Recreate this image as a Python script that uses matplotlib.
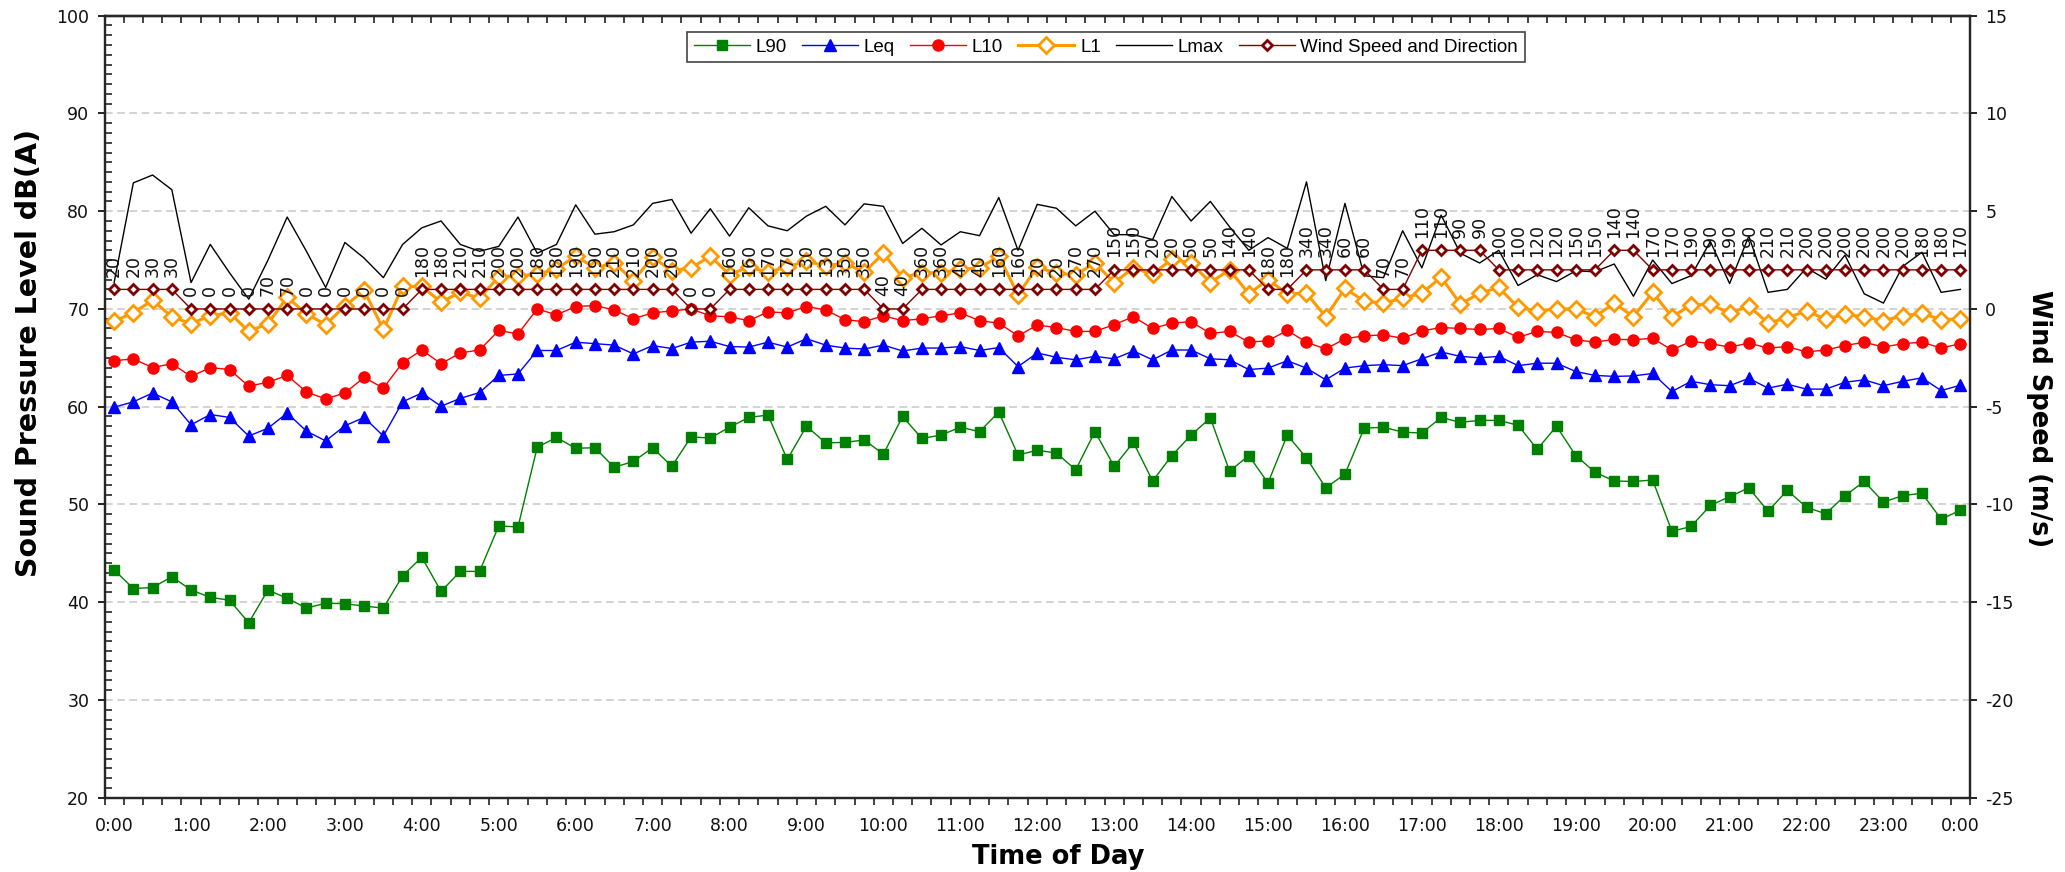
import matplotlib
matplotlib.use("Agg")
import matplotlib.pyplot as plt
from matplotlib.ticker import MultipleLocator, FixedLocator, NullFormatter
import numpy as np

plt.rcParams['font.family'] = ['DejaVu Sans']
plt.rcParams['axes.unicode_minus'] = False

# 15-minute intervals from 0:00 to 24:00
time_labels = ["0:00", "1:00", "2:00", "3:00", "4:00", "5:00", "6:00", "7:00",
               "8:00", "9:00", "10:00", "11:00", "12:00", "13:00", "14:00",
               "15:00", "16:00", "17:00", "18:00", "19:00", "20:00", "21:00",
               "22:00", "23:00", "0:00"]

l90 = [43.3, 41.4, 41.5, 42.6, 41.25, 40.5, 40.2, 37.9, 41.25, 40.4, 39.4, 39.9,
       39.85, 39.6, 39.4, 42.7, 44.6, 41.1, 43.15, 43.15, 47.8, 47.7, 55.85, 56.85,
       55.75, 55.8, 53.8, 54.4, 55.8, 53.9, 56.9, 56.8, 57.9, 58.9, 59.15, 54.6,
       58.0, 56.3, 56.35, 56.6, 55.15, 59.0, 56.75, 57.1, 57.9, 57.45, 59.45, 55.05,
       55.55, 55.25, 53.55, 57.45, 53.9, 56.35, 52.4, 55.0, 57.1, 58.85, 53.4, 55.0,
       52.2, 57.1, 54.75, 51.7, 53.1, 57.8, 57.9, 57.4, 57.3, 58.9, 58.4, 58.6,
       58.6, 58.1, 55.65, 58.0, 55.0, 53.3, 52.4, 52.35, 52.5, 47.25, 47.75, 49.9,
       50.8, 51.7, 49.3, 51.45, 49.7, 49.05, 50.9, 52.35, 50.25, 50.9, 51.15, 48.5,
       49.4]

leq = [59.95, 60.5, 61.4, 60.5, 58.15, 59.2, 58.9, 57.0, 57.8, 59.35, 57.5, 56.5,
       58.05, 58.9, 57.0, 60.5, 61.4, 60.05, 60.85, 61.45, 63.2, 63.35, 65.75, 65.75,
       66.6, 66.45, 66.3, 65.4, 66.25, 65.95, 66.6, 66.7, 66.15, 66.1, 66.6, 66.1,
       66.95, 66.3, 66.0, 65.9, 66.3, 65.7, 66.0, 66.0, 66.15, 65.75, 66.05, 64.1,
       65.5, 65.05, 64.8, 65.15, 64.9, 65.7, 64.8, 65.8, 65.8, 64.9, 64.8, 63.8,
       63.95, 64.7, 63.95, 62.75, 63.95, 64.2, 64.3, 64.2, 64.9, 65.6, 65.15, 65.0,
       65.15, 64.2, 64.45, 64.45, 63.6, 63.2, 63.1, 63.15, 63.4, 61.55, 62.6, 62.25,
       62.15, 62.9, 61.9, 62.3, 61.8, 61.8, 62.5, 62.75, 62.15, 62.6, 62.95, 61.65,
       62.2]

l10 = [64.7, 64.9, 64.0, 64.4, 63.1, 64.0, 63.8, 62.1, 62.5, 63.2, 61.5, 60.8,
       61.4, 63.0, 61.9, 64.5, 65.8, 64.4, 65.5, 65.8, 67.8, 67.45, 70.0, 69.4,
       70.25, 70.35, 69.9, 69.0, 69.6, 69.8, 70.0, 69.3, 69.2, 68.8, 69.7, 69.6,
       70.25, 69.9, 68.9, 68.7, 69.3, 68.8, 69.0, 69.3, 69.6, 68.8, 68.55, 67.25,
       68.35, 68.1, 67.7, 67.7, 68.4, 69.2, 68.0, 68.55, 68.7, 67.5, 67.7, 66.6,
       66.75, 67.8, 66.6, 65.9, 66.95, 67.25, 67.35, 67.0, 67.75, 68.1, 68.0, 67.9,
       68.0, 67.1, 67.7, 67.6, 66.85, 66.6, 66.9, 66.85, 67.0, 65.8, 66.7, 66.45,
       66.1, 66.5, 66.0, 66.15, 65.6, 65.8, 66.25, 66.6, 66.1, 66.45, 66.6, 66.0,
       66.45]

l1 = [68.75, 69.6, 70.9, 69.2, 68.5, 69.3, 69.6, 67.7, 68.5, 71.2, 69.5, 68.4,
      70.3, 71.9, 67.9, 72.3, 72.3, 70.7, 71.7, 71.1, 73.3, 73.4, 73.55, 74.1,
      75.4, 74.2, 74.7, 72.9, 75.3, 73.9, 74.2, 75.4, 73.5, 74.3, 73.75, 74.3,
      74.9, 74.4, 74.7, 73.75, 75.7, 73.2, 73.7, 73.7, 74.05, 74.2, 75.4, 71.45,
      74.3, 73.65, 73.5, 74.7, 72.7, 74.2, 73.55, 75.1, 74.7, 72.7, 74.0, 71.55,
      73.0, 71.55, 71.6, 69.2, 72.1, 70.8, 70.6, 71.1, 71.6, 73.25, 70.5, 71.6,
      72.2, 70.15, 69.8, 70.0, 70.0, 69.2, 70.6, 69.2, 71.7, 69.2, 70.4, 70.5,
      69.55, 70.3, 68.55, 69.1, 69.8, 68.95, 69.45, 69.2, 68.8, 69.3, 69.55, 68.9,
      69.0]

lmax = [72.7, 82.9, 83.7, 82.2, 72.7, 76.6, 73.7, 71.0, 75.0, 79.4, 75.9, 72.2,
        76.8, 75.2, 73.2, 76.6, 78.3, 79.0, 76.6, 75.9, 76.4, 79.4, 75.7, 76.6,
        80.65, 77.65, 77.9, 78.6, 80.8, 81.2, 77.75, 80.25, 77.45, 80.35, 78.5, 78.0,
        79.5, 80.5, 78.6, 80.75, 80.5, 76.7, 78.25, 76.55, 77.9, 77.5, 81.4, 76.0,
        80.7, 80.3, 78.5, 80.0, 77.6, 77.6, 77.1, 81.5, 79.0, 81.0, 78.4, 76.0,
        77.3, 76.2, 83.0, 72.9, 80.8, 73.4, 73.2, 78.0, 74.2, 79.6, 75.7, 74.7,
        76.0, 72.4, 73.5, 72.8, 73.9, 73.8, 74.6, 71.3, 75.0, 72.6, 73.4, 76.9,
        72.6, 77.45, 71.7, 72.0, 74.2, 73.05, 75.5, 71.55, 70.6, 74.35, 75.8, 71.7,
        72.0]

wind_speed = [1, 1, 1, 1, 0, 0, 0, 0, 0, 0, 0, 0, 0, 0, 0, 0, 1, 1, 1, 1, 1, 1, 1, 1,
              1, 1, 1, 1, 1, 1, 0, 0, 1, 1, 1, 1, 1, 1, 1, 1, 0, 0, 1, 1, 1, 1, 1, 1,
              1, 1, 1, 1, 2, 2, 2, 2, 2, 2, 2, 2, 1, 1, 2, 2, 2, 2, 1, 1, 3, 3, 3, 3,
              2, 2, 2, 2, 2, 2, 3, 3, 2, 2, 2, 2, 2, 2, 2, 2, 2, 2, 2, 2, 2, 2, 2, 2,
              2]

wind_dir = [20, 20, 30, 30, 0, 0, 0, 0, 70, 70, 0, 0, 0, 0, 0, 0, 180, 180, 210, 210,
            200, 200, 180, 180, 190, 190, 210, 210, 200, 200, 0, 0, 160, 160, 170, 170,
            130, 130, 350, 350, 40, 40, 360, 360, 40, 40, 160, 160, 20, 20, 270, 270,
            150, 150, 20, 20, 50, 50, 140, 140, 180, 180, 340, 340, 60, 60, 70, 70,
            110, 110, 90, 90, 100, 100, 120, 120, 150, 150, 140, 140, 170, 170, 190, 190,
            190, 190, 210, 210, 200, 200, 200, 200, 200, 200, 180, 180, 170]

x = np.arange(len(l90))
n = len(x)

W, H = 2065, 872
fig = plt.figure(figsize=(W / 100, H / 100), dpi=100)
left_px, right_px, top_px, bottom_px = 104.5, 1970, 15.7, 797.7
ax = fig.add_axes([left_px / W, 1 - bottom_px / H,
                   (right_px - left_px) / W, (bottom_px - top_px) / H])
ax2 = ax.twinx()

spine_color = '#262626'
for a in (ax, ax2):
    for s in a.spines.values():
        s.set_linewidth(1.6)
        s.set_color(spine_color)

# Left axis: sound levels
ax.set_ylim(20, 100)
ax.set_xlim(-0.5, n - 0.5)
ax.yaxis.set_major_locator(MultipleLocator(10))
ax.yaxis.set_minor_locator(MultipleLocator(1))
ax.tick_params(axis='y', which='major', direction='out', length=5, width=1.3,
               labelsize=12.5, pad=6, colors='#111111')
ax.tick_params(axis='y', which='minor', direction='in', length=5, width=1.1,
               colors='#111111')
ax.grid(axis='y', which='major', color='#c8c8c8', linewidth=1.1,
        linestyle=(0, (5, 3)))
ax.set_axisbelow(True)

# Bottom axis: labels at each hour, ticks between categories
ax.xaxis.set_major_locator(FixedLocator(x[::4]))
ax.set_xticklabels(time_labels)
ax.xaxis.set_minor_locator(FixedLocator(np.arange(-0.5, n, 1.0)))
ax.tick_params(axis='x', which='major', length=0, labelsize=12.5, pad=14,
               colors='#111111')
ax.tick_params(axis='x', which='minor', direction='out', length=5, width=1.1,
               colors='#111111')

top = ax.secondary_xaxis('top')
top.xaxis.set_major_locator(FixedLocator(np.arange(-0.5, n, 1.0)))
top.xaxis.set_major_formatter(NullFormatter())
top.tick_params(direction='in', length=5, width=1.1, colors='#111111')
top.spines['top'].set_linewidth(1.6)
top.spines['top'].set_color(spine_color)

# Right axis: wind speed
ax2.set_ylim(-25, 15)
ax2.yaxis.set_major_locator(MultipleLocator(5))
ax2.tick_params(axis='y', which='major', direction='out', length=5, width=1.3,
                labelsize=12.5, pad=6, colors='#111111')

h90, = ax.plot(x, l90, color='#008000', lw=1.0, marker='s', ms=7.5,
               mec='#008000', mfc='#008000', label='L90', zorder=3)
heq, = ax.plot(x, leq, color='#0000ff', lw=1.0, marker='^', ms=8.5,
               mec='#0000ff', mfc='#0000ff', label='Leq', zorder=3)
h10, = ax.plot(x, l10, color='#ff0000', lw=1.0, marker='o', ms=8,
               mec='#ff0000', mfc='#ff0000', label='L10', zorder=3)
h1, = ax.plot(x, l1, color='#ff9900', lw=2.2, marker='D', ms=8,
              mec='#ff9900', mfc='white', mew=2, label='L1', zorder=3)
hmax, = ax.plot(x, lmax, color='black', lw=1.0, label='Lmax', zorder=3)
hw, = ax2.plot(x, wind_speed, color='#800000', lw=1.0, marker='D', ms=5.5,
               mec='#800000', mfc='white', mew=2,
               label='Wind Speed and Direction', zorder=4)

for xi, sp, d in zip(x, wind_speed, wind_dir):
    ax2.annotate(str(d), (xi, sp), xytext=(0, 9), textcoords='offset points',
                 rotation=90, ha='center', va='bottom', fontsize=12.5,
                 color='#111111')

leg = ax2.legend(handles=[h90, heq, h10, h1, hmax, hw], loc='upper center',
                 bbox_to_anchor=((1106 - left_px) / (right_px - left_px),
                                 1 - (32 - top_px) / (bottom_px - top_px)),
                 borderaxespad=0,
                 ncol=6, frameon=True, fancybox=False, framealpha=1,
                 edgecolor='#444444', handlelength=3.0, handletextpad=0.3,
                 columnspacing=0.8, borderpad=0.35,
                 prop={'family': ['Liberation Sans Narrow', 'Liberation Sans'],
                       'size': 13.5})
leg.get_frame().set_linewidth(1.2)

fig.text(29 / W, 1 - 353 / H, 'Sound Pressure Level dB(A)', rotation=90,
         ha='center', va='center', fontsize=20.5, fontweight='bold')
fig.text(1058 / W, 1 - 857 / H, 'Time of Day', ha='center', va='center',
         fontsize=18.5, fontweight='bold')
fig.text(2039 / W, 1 - 419 / H, 'Wind Speed (m/s)', rotation=-90,
         ha='center', va='center', fontsize=18.5, fontweight='bold')

fig.savefig('out.png', dpi=100)
